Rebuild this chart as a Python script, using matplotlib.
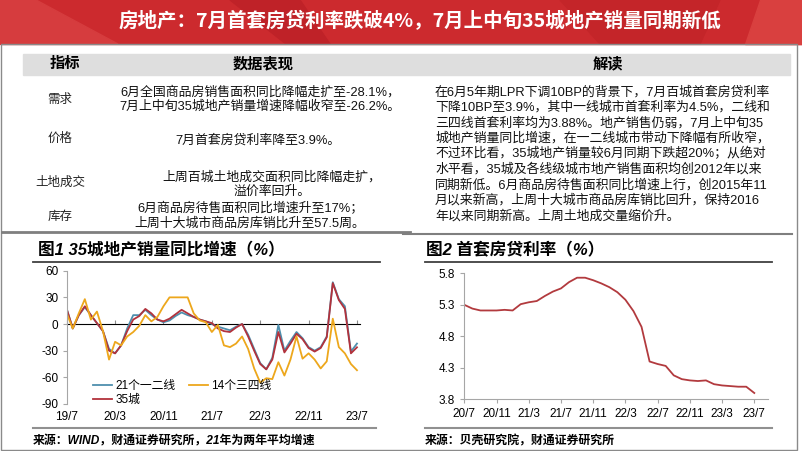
import matplotlib
matplotlib.use("Agg")
import matplotlib.pyplot as plt
from matplotlib.patches import Rectangle, Polygon
from matplotlib.lines import Line2D

plt.rcParams['font.family'] = ['Liberation Sans', 'Noto Sans CJK SC']
plt.rcParams['axes.unicode_minus'] = False

# ---- data ----
title = '房地产：7月首套房贷利率跌破4%，7月上中旬35城地产销量同期新低'

table_head = ['指标', '数据表现', '解读']
row_names = ['需求', '价格', '土地成交', '库存']
row_texts = [
    ['6月全国商品房销售面积同比降幅走扩至-28.1%，', '7月上中旬35城地产销量增速降幅收窄至-26.2%。'],
    ['7月首套房贷利率降至3.9%。'],
    ['上周百城土地成交面积同比降幅走扩，', '溢价率回升。'],
    ['6月商品房待售面积同比增速升至17%；', '上周十大城市商品房库销比升至57.5周。'],
]
comment_lines = [
    '在6月5年期LPR下调10BP的背景下，7月百城首套房贷利率',
    '下降10BP至3.9%，其中一线城市首套利率为4.5%，二线和',
    '三四线首套利率均为3.88%。地产销售仍弱，7月上中旬35',
    '城地产销量同比增速，在一二线城市带动下降幅有所收窄，',
    '不过环比看，35城地产销量较6月同期下跌超20%；从绝对',
    '水平看，35城及各线级城市地产销售面积均创2012年以来',
    '同期新低。6月商品房待售面积同比增速上行，创2015年11',
    '月以来新高，上周十大城市商品房库销比回升，保持2016',
    '年以来同期新高。上周土地成交量缩价升。',
]

# chart 1: monthly 19/7 .. 23/7
c1_ticklabels = ['19/7', '20/3', '20/11', '21/7', '22/3', '22/11', '23/7']
tier12 = [17, -5, 10, 19, 10, 1, -8, -28, -33, -24, -5, 10, 10, 16, 10, 5, 2, 4, 9, 13,
          10, 8, 5, 3, 0, -3, -5, -7, -3, 0, -12, -28, -44, -51, -38, -1, -30, -19, -9, -16,
          -26, -30, -26, -14, 47, 28, 20, -31, -22]
tier34 = [12, -5, 12, 28, 5, 14, -8, -40, -20, -24, -14, -9, -2, 10, 3, 8, 20, 30, 30, 30,
          30, 12, 4, 2, -9, -1, -24, -26, -22, -14, -28, -50, -66, -61, -62, -43, -58, -40, -14, -39,
          -33, -40, -50, -42, 6, -26, -33, -45, -52]
city35 = [17, -5, 10, 20, 10, 1, -8, -30, -33, -24, -8, 5, 9, 17, 12, 5, 3, 6, 11, 16,
          12, 8, 5, 3, 1, -5, -8, -9, -4, 0, -14, -30, -45, -51, -40, -9, -32, -22, -11, -17,
          -27, -31, -27, -15, 46, 27, 17, -33, -26.2]

# chart 2: monthly 20/7 .. 23/7
c2_ticklabels = ['20/7', '20/11', '21/3', '21/7', '21/11', '22/3', '22/7', '22/11', '23/3', '23/7']
mortgage = [5.30, 5.24, 5.21, 5.21, 5.21, 5.22, 5.21, 5.31, 5.34, 5.36, 5.44, 5.51, 5.56,
            5.66, 5.73, 5.73, 5.69, 5.64, 5.58, 5.50, 5.38, 5.20, 4.95, 4.40, 4.36, 4.33,
            4.18, 4.12, 4.10, 4.09, 4.10, 4.04, 4.02, 4.01, 4.00, 4.00, 3.90]

W, H = 802, 451
fig = plt.figure(figsize=(W / 100, H / 100), dpi=100)


def fx(x):
    return x / W


def fy(y):
    return 1 - y / H


def ftext(x, y, s, **kw):
    fig.text(fx(x), fy(y), s, **kw)


def hline(x0, x1, y, color, lw):
    fig.add_artist(Line2D([fx(x0), fx(x1)], [fy(y), fy(y)], color=color, lw=lw,
                          transform=fig.transFigure))


# ---- header band ----
fig.add_artist(Rectangle((0, fy(44)), 1, 44 / H, color='#CC2A2E', transform=fig.transFigure, zorder=0))
for pts, col in [([(0, 0), (36, 0), (118, 44), (0, 44)], '#D63C3E'),
                 ([(230, 0), (300, 0), (330, 44), (286, 44)], '#BF2228'),
                 ([(560, 0), (720, 0), (700, 44), (600, 44)], '#C42529'),
                 ([(760, 0), (802, 0), (802, 44), (745, 44)], '#D9403F')]:
    fig.add_artist(Polygon([(fx(a), fy(b)) for a, b in pts], closed=True, color=col,
                           transform=fig.transFigure, zorder=0))
ftext(420, 21, title, color='white', fontsize=14, fontweight='bold', ha='center', va='center',
      family=['Noto Sans CJK SC'])

# frame
fig.add_artist(Rectangle((fx(1), fy(450)), fx(796), 406 / H, fill=False, ec='#8A8A8A', lw=1,
                         transform=fig.transFigure))

# ---- table ----
fig.add_artist(Rectangle((fx(23), fy(75)), fx(767), 21 / H, color='#DEDEDE', transform=fig.transFigure))
ftext(65, 64, table_head[0], fontsize=11, fontweight='bold', ha='center', va='center')
ftext(263, 64, table_head[1], fontsize=11, fontweight='bold', ha='center', va='center')
ftext(608, 64, table_head[2], fontsize=11, fontweight='bold', ha='center', va='center')

row_y = [100, 139, 183, 217]
text_y = [[92, 107], [140], [177, 192], [209, 224]]
text_x = [260, 258, 272, 250]
for i, name in enumerate(row_names):
    ftext(60, row_y[i], name, fontsize=9, ha='center', va='center', color='#222222')
    for j, line in enumerate(row_texts[i]):
        ftext(text_x[i], text_y[i][j], line, fontsize=9.3, ha='center', va='center', color='#111111')

for k, line in enumerate(comment_lines):
    ftext(435, 92 + k * 15.5, line, fontsize=9.3, ha='left', va='center', color='#111111')

hline(2, 410, 232, '#7F7F7F', 2)
hline(403, 792, 234, '#7F7F7F', 1.5)

# ---- chart titles / sources ----
ftext(38, 250, '图1 35城地产销量同比增速（%）', fontsize=12, fontweight='bold', ha='left', va='center',
      style='italic')
hline(33, 380, 262, '#404040', 1.3)
hline(33, 376, 428, '#909090', 1.5)
ftext(33, 441, '来源：WIND，财通证券研究所，21年为两年平均增速', fontsize=8.6, fontweight='bold',
      ha='left', va='center', style='italic')

ftext(426, 250, '图2 首套房贷利率（%）', fontsize=12, fontweight='bold', ha='left', va='center',
      style='italic')
hline(425, 772, 262, '#404040', 1.3)
hline(425, 772, 428, '#909090', 1.5)
ftext(425, 441, '来源：贝壳研究院，财通证券研究所', fontsize=8.6, fontweight='bold', ha='left',
      va='center', style='italic')

# ---- chart 1 ----
ax1 = fig.add_axes([fx(66.7), fy(404), fx(360 - 66.7), 133.3 / H])
x1 = list(range(len(city35)))
ax1.plot(x1, tier12, color='#4E8FAE', lw=1.3, label='21个一二线')
ax1.plot(x1, city35, color='#B2323C', lw=1.3, label='35城')
ax1.plot(x1, tier34, color='#EDA71C', lw=1.3, label='14个三四线')
ax1.set_ylim(-90, 60)
ax1.set_xlim(0, 48.5)
ax1.set_yticks([-90, -60, -30, 0, 30, 60])
ax1.set_xticks(range(0, 49, 8))
ax1.set_xticklabels(c1_ticklabels)
for s in ['top', 'right', 'bottom']:
    ax1.spines[s].set_visible(False)
ax1.spines['left'].set_color('#A6A6A6')
ax1.tick_params(axis='y', length=3, color='#A6A6A6', labelsize=8.5, pad=3)
ax1.tick_params(axis='x', length=0, labelsize=8.5, pad=5)
ax1.patch.set_visible(False)
zero = ax1.secondary_xaxis((0 - (-90)) / 150)
zero.set_xticks(range(0, 49, 8))
zero.set_xticklabels([])
zero.spines['bottom'].set_color('#8C8C8C')
zero.spines['bottom'].set_linewidth(1.8)
zero.tick_params(axis='x', length=3, color='#8C8C8C', direction='out')
h = ax1.get_legend_handles_labels()[0]
ax1.legend(handles=h, ncol=2, loc='lower left', bbox_to_anchor=(0.075, -0.05), frameon=False,
           fontsize=8.5, handlelength=1.6, handletextpad=0.3, columnspacing=1.1, labelspacing=0.15,
           borderaxespad=0)

# ---- chart 2 ----
ax2 = fig.add_axes([fx(464.3), fy(399.3), fx(768 - 464.3), 126 / H])
x2 = list(range(len(mortgage)))
ax2.plot(x2, mortgage, color='#B23A3E', lw=1.3)
ax2.set_ylim(3.8, 5.8)
ax2.set_xlim(0, 37.7)
ax2.set_yticks([3.8, 4.3, 4.8, 5.3, 5.8])
ax2.set_xticks(range(0, 37, 4))
ax2.set_xticklabels(c2_ticklabels)
for s in ['top', 'right']:
    ax2.spines[s].set_visible(False)
for s in ['left', 'bottom']:
    ax2.spines[s].set_color('#A6A6A6')
ax2.tick_params(length=3, color='#A6A6A6', labelsize=8.5)
ax2.patch.set_visible(False)

fig.savefig('out.png', dpi=100)
